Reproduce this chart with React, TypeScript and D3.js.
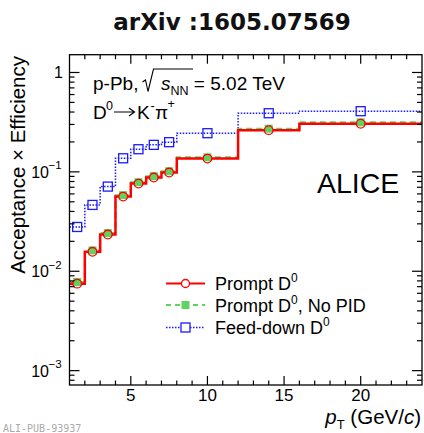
import React from "react";
import * as d3 from "d3";

const binEdges = [1, 2, 3, 4, 5, 6, 7, 8, 12, 16, 24];
const promptVals = [0.0075, 0.0157, 0.0234, 0.0564, 0.0762, 0.0877, 0.0984, 0.136, 0.263, 0.305];
const noPidVals = [0.0078, 0.0162, 0.0242, 0.0583, 0.0788, 0.0905, 0.1015, 0.140, 0.272, 0.315];
const feedDownVals = [0.0279, 0.0465, 0.0711, 0.137, 0.169, 0.187, 0.199, 0.245, 0.389, 0.408];
const xTicks = [5, 10, 15, 20];
const yMajor = [1e-3, 1e-2, 1e-1, 1];
const yTickLabels = ["10", "10", "10", "1"];
const yTickExp = ["−3", "−2", "−1", ""];

const W = 424, H = 433;
const L = 69.5, R = 422, T = 54.7, B = 385;
const FONT = "'Liberation Sans', Arial, Helvetica, sans-serif";

export default function App() {
  const x = d3.scaleLinear().domain([1, 24]).range([L, R]);
  const y = d3.scaleLog().domain([7.17e-4, 1.51]).range([B, T]);

  const stepPath = (vals: number[]) => {
    let p = "";
    vals.forEach((v, i) => {
      const x0 = x(binEdges[i]), x1 = x(binEdges[i + 1]), yy = y(v);
      p += (i === 0 ? `M${x0},${yy}` : `L${x0},${yy}`) + `L${x1},${yy}`;
    });
    return p;
  };
  const centers = binEdges.slice(0, -1).map((e, i) => (e + binEdges[i + 1]) / 2);

  const xMinor = d3.range(2, 24).filter((v) => v % 5 !== 0);
  const yMinor: number[] = [];
  [1e-4, 1e-3, 1e-2, 1e-1, 1].forEach((d) => {
    for (let k = 2; k <= 9; k++) {
      const v = d * k;
      if (v > y.domain()[0] && v < y.domain()[1]) yMinor.push(v);
    }
  });

  const red = "#ff0000";
  const green = "#5fd35f";
  const blue = "#1a1aff";

  return (
    <svg width={W} height={H} style={{ position: "absolute", left: 0, top: 0 }} fontFamily={FONT}>
      <rect width={W} height={H} fill="white" />
      <text x={232} y={30} textAnchor="middle" fontSize={23} fontWeight="bold" fill="#111"
        fontFamily="'DejaVu Sans', sans-serif">
        arXiv :1605.07569
      </text>

      {/* data */}
      <path d={stepPath(feedDownVals)} fill="none" stroke={blue} strokeWidth={1.5} strokeDasharray="1.5,1.5" />
      <path d={stepPath(noPidVals)} fill="none" stroke={green} strokeWidth={2} strokeDasharray="6,4" />
      <path d={stepPath(promptVals)} fill="none" stroke={red} strokeWidth={2.5} />
      {centers.map((c, i) => (
        <rect key={"fd" + i} x={x(c) - 4.5} y={y(feedDownVals[i]) - 4.5} width={9} height={9} fill="none" stroke={blue} strokeWidth={1.3} />
      ))}
      {centers.map((c, i) => (
        <rect key={"np" + i} x={x(c) - 4} y={y(noPidVals[i]) - 4} width={8} height={8} fill={green} />
      ))}
      {centers.map((c, i) => (
        <circle key={"pr" + i} cx={x(c)} cy={y(promptVals[i])} r={4.3} fill="none" stroke={red} strokeWidth={1.3} />
      ))}

      {/* frame */}
      <rect x={L} y={T} width={R - L} height={B - T} fill="none" stroke="black" strokeWidth={1.3} />
      {xTicks.map((t) => (
        <g key={"xt" + t}>
          <line x1={x(t)} x2={x(t)} y1={B} y2={B - 9} stroke="black" strokeWidth={1.2} />
          <line x1={x(t)} x2={x(t)} y1={T} y2={T + 9} stroke="black" strokeWidth={1.2} />
          <text x={x(t)} y={401} textAnchor="middle" fontSize={17}>{t}</text>
        </g>
      ))}
      {xMinor.map((t) => (
        <g key={"xm" + t}>
          <line x1={x(t)} x2={x(t)} y1={B} y2={B - 4.5} stroke="black" strokeWidth={1.2} />
          <line x1={x(t)} x2={x(t)} y1={T} y2={T + 4.5} stroke="black" strokeWidth={1.2} />
        </g>
      ))}
      {yMajor.map((t, i) => (
        <g key={"yt" + i}>
          <line x1={L} x2={L + 10} y1={y(t)} y2={y(t)} stroke="black" strokeWidth={1.2} />
          <line x1={R} x2={R - 10} y1={y(t)} y2={y(t)} stroke="black" strokeWidth={1.2} />
          <text x={yTickExp[i] ? 49 : 63} y={y(t) + 6} textAnchor="end" fontSize={16}>{yTickLabels[i]}</text>
          {yTickExp[i] && (
            <text x={48.5} y={y(t) - 2.5} fontSize={11.5}>{yTickExp[i]}</text>
          )}
        </g>
      ))}
      {yMinor.map((t, i) => (
        <g key={"ym" + i}>
          <line x1={L} x2={L + 5} y1={y(t)} y2={y(t)} stroke="black" strokeWidth={1.2} />
          <line x1={R} x2={R - 5} y1={y(t)} y2={y(t)} stroke="black" strokeWidth={1.2} />
        </g>
      ))}

      {/* axis titles */}
      <text x={421} y={424} textAnchor="end" fontSize={20.5}>
        <tspan fontStyle="italic">p</tspan>
        <tspan fontSize={13} dy={5}>T</tspan>
        <tspan dy={-5}> (GeV/</tspan>
        <tspan fontStyle="italic">c</tspan>
        <tspan>)</tspan>
      </text>
      <text transform="translate(25,56) rotate(-90)" textAnchor="end" fontSize={20.5}>
        Acceptance × Efficiency
      </text>

      {/* annotations */}
      <text x={93} y={90} fontSize={19}>p-Pb,</text>
      <path d="M142.5,82 L145.5,80 L148,91.5 L153.5,69 L193,69" fill="none" stroke="black" strokeWidth={1.1} />
      <text x={161} y={90} fontSize={19}>
        <tspan fontStyle="italic">s</tspan>
        <tspan fontSize={12.5} dy={5}>NN</tspan>
        <tspan dy={-5}> = 5.02 TeV</tspan>
      </text>
      <text x={93} y={118.5} fontSize={19}>D</text>
      <text x={106} y={110} fontSize={12.5}>0</text>
      <path d="M114,112 L134,112 M129,108 L134.5,112 L129,116" fill="none" stroke="black" strokeWidth={1.2} />
      <text x={137} y={118.5} fontSize={19}>K</text>
      <text x={150.5} y={110} fontSize={12.5}>-</text>
      <text x={155} y={118.5} fontSize={19}>π</text>
      <text x={167.5} y={108} fontSize={12.5}>+</text>
      <text x={317} y={193} fontSize={28.5}>ALICE</text>

      {/* legend */}
      <line x1={166} x2={205} y1={283.5} y2={283.5} stroke={red} strokeWidth={2} />
      <circle cx={185.5} cy={283.5} r={4} fill="white" stroke={red} strokeWidth={1.3} />
      <line x1={166} x2={205} y1={305} y2={305} stroke={green} strokeWidth={2} strokeDasharray="5,4" />
      <rect x={181.5} y={301} width={8} height={8} fill={green} />
      <line x1={166} x2={205} y1={327.5} y2={327.5} stroke={blue} strokeWidth={1.5} strokeDasharray="1.5,1.5" />
      <rect x={181} y={323} width={9} height={9} fill="white" stroke={blue} strokeWidth={1.3} />
      {[
        { yy: 289.5, t: "Prompt D", s: "" },
        { yy: 311.5, t: "Prompt D", s: ", No PID" },
        { yy: 333.5, t: "Feed-down D", s: "" },
      ].map((r, i) => (
        <text key={"lg" + i} x={215} y={r.yy} fontSize={18}>
          <tspan>{r.t}</tspan>
          <tspan fontSize={12} dy={-8}>0</tspan>
          <tspan dy={8}>{r.s}</tspan>
        </text>
      ))}

      <text x={3} y={431.5} fontSize={10} fontFamily="'DejaVu Sans Mono', monospace" fill="#aaa">ALI-PUB-93937</text>
    </svg>
  );
}
